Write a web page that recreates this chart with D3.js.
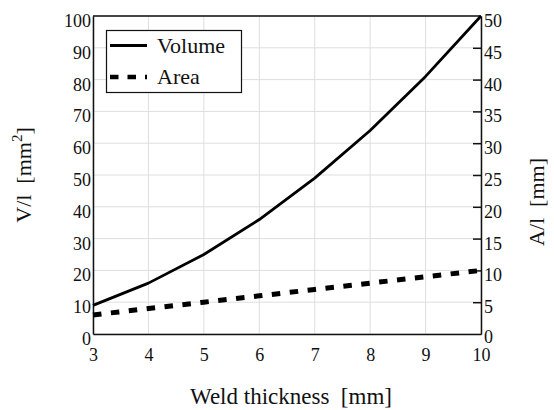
<!DOCTYPE html>
<html>
<head>
<meta charset="utf-8">
<script src="https://cdn.jsdelivr.net/npm/d3@7"></script>
<style>
	body { margin: 0; background: #fff; }
	svg text { font-family: "Liberation Serif", "DejaVu Serif", serif; fill: #111; }
</style>
</head>
<body>
<div id="chart"></div>
<script>
var thickness = [3, 4, 5, 6, 7, 8, 9, 10];
var volume = [9, 16, 25, 36, 49, 64, 81, 100];
var area = [3, 4, 5, 6, 7, 8, 9, 10];
var leftTicks = [0, 10, 20, 30, 40, 50, 60, 70, 80, 90, 100];
var rightTicks = [0, 5, 10, 15, 20, 25, 30, 35, 40, 45, 50];

var width = 554, height = 410;
var plot = {left: 93, right: 481, top: 16, bottom: 334};
var serif = '"Liberation Serif", "DejaVu Serif", serif';

var svg = d3.select("#chart").append("svg")
	.attr("width", width)
	.attr("height", height);

var x = d3.scaleLinear().domain([3, 10]).range([plot.left, plot.right]);
var yLeft = d3.scaleLinear().domain([0, 100]).range([plot.bottom, plot.top]);
var yRight = d3.scaleLinear().domain([0, 50]).range([plot.bottom, plot.top]);

// grid
svg.append("g").selectAll("line")
	.data(thickness)
	.enter().append("line")
	.attr("x1", function(d){return x(d)})
	.attr("x2", function(d){return x(d)})
	.attr("y1", plot.top)
	.attr("y2", plot.bottom)
	.attr("stroke", "#dedede")
	.attr("stroke-width", 1);

svg.append("g").selectAll("line")
	.data(leftTicks)
	.enter().append("line")
	.attr("x1", plot.left)
	.attr("x2", plot.right)
	.attr("y1", function(d){return yLeft(d)})
	.attr("y2", function(d){return yLeft(d)})
	.attr("stroke", "#dedede")
	.attr("stroke-width", 1);

// axes
var fmt = d3.format("d");
var xAxis = svg.append("g")
	.attr("transform", "translate(0," + plot.bottom + ")")
	.call(d3.axisBottom(x).tickValues(thickness).tickFormat(fmt).tickSize(0).tickPadding(14));

var leftAxis = svg.append("g")
	.attr("transform", "translate(" + plot.left + ",0)")
	.call(d3.axisLeft(yLeft).tickValues(leftTicks).tickFormat(fmt).tickSize(0).tickPadding(2));

var rightAxis = svg.append("g")
	.attr("transform", "translate(" + plot.right + ",0)")
	.call(d3.axisRight(yRight).tickValues(rightTicks).tickFormat(fmt).tickSizeInner(-8).tickSizeOuter(0).tickPadding(3));

[xAxis, leftAxis, rightAxis].forEach(function(a){
	a.attr("font-family", serif).attr("font-size", 18);
	a.selectAll("text")
		.style("font-family", serif)
		.style("font-size", "18px")
		.attr("fill", "#111");
	a.selectAll(".tick line").attr("stroke", "#111").attr("stroke-width", 1.5);
	a.select(".domain").attr("stroke", "#111").attr("stroke-width", 1.5);
});
leftAxis.selectAll("text").attr("dy", "0.58em");
rightAxis.selectAll("text").attr("dy", "0.58em");
rightAxis.selectAll(".tick").filter(function(d){return d == 0 || d == 50}).select("line").remove();
rightAxis.selectAll(".tick").filter(function(d){return d == 0}).select("text").attr("dy", "0.45em");

// top border
svg.append("line")
	.attr("x1", plot.left).attr("x2", plot.right)
	.attr("y1", plot.top).attr("y2", plot.top)
	.attr("stroke", "#111").attr("stroke-width", 1.5);

// lines
var volumeLine = d3.line()
	.x(function(d, i){return x(thickness[i])})
	.y(function(d){return yLeft(d)});

var areaLine = d3.line()
	.x(function(d, i){return x(thickness[i])})
	.y(function(d){return yRight(d)});

svg.append("path")
	.datum(volume)
	.attr("d", volumeLine)
	.attr("fill", "none")
	.attr("stroke", "#000")
	.attr("stroke-width", 2.8)
	.attr("stroke-linejoin", "round");

svg.append("path")
	.datum(area)
	.attr("d", areaLine)
	.attr("fill", "none")
	.attr("stroke", "#000")
	.attr("stroke-width", 5)
	.attr("stroke-dasharray", "8.5,9.5");

// legend
var legend = svg.append("g");
legend.append("rect")
	.attr("x", 106.5).attr("y", 30.5)
	.attr("width", 135).attr("height", 62)
	.attr("fill", "#fff")
	.attr("stroke", "#111")
	.attr("stroke-width", 1.2);
legend.append("line")
	.attr("x1", 110).attr("x2", 147)
	.attr("y1", 45.5).attr("y2", 45.5)
	.attr("stroke", "#000").attr("stroke-width", 2.8);
legend.append("line")
	.attr("x1", 110).attr("x2", 147)
	.attr("y1", 77).attr("y2", 77)
	.attr("stroke", "#000").attr("stroke-width", 4.5)
	.attr("stroke-dasharray", "8.5,9");
legend.append("text").attr("x", 157).attr("y", 53).style("font-size", "22px").text("Volume");
legend.append("text").attr("x", 157).attr("y", 84).style("font-size", "22px").text("Area");

// axis titles
svg.append("text")
	.attr("x", 291)
	.attr("y", 404)
	.attr("text-anchor", "middle")
	.style("font-size", "23px")
	.style("white-space", "pre")
	.text("Weld thickness  [mm]");

var leftTitle = svg.append("text")
	.attr("transform", "translate(31,175) rotate(-90)")
	.attr("text-anchor", "middle")
	.style("font-size", "22px")
	.style("white-space", "pre");
leftTitle.append("tspan").text("V/l  [mm");
leftTitle.append("tspan").attr("dy", -9).style("font-size", "15px").text("2");
leftTitle.append("tspan").attr("dy", 9).text("]");

svg.append("text")
	.attr("transform", "translate(544,202) rotate(-90)")
	.attr("text-anchor", "middle")
	.style("font-size", "22px")
	.style("white-space", "pre")
	.text("A/l  [mm]");
</script>
</body>
</html>
